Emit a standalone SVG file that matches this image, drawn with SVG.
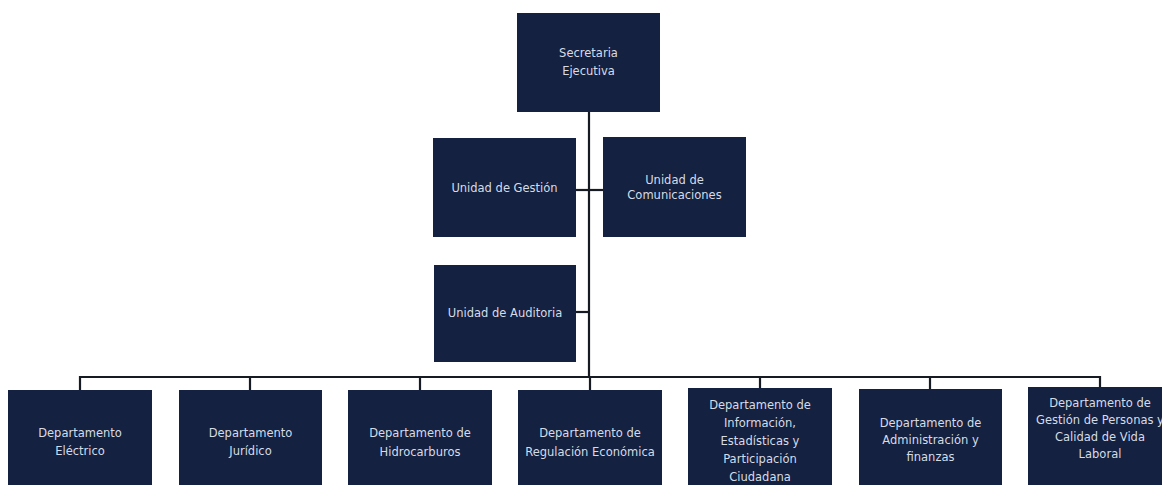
<svg xmlns="http://www.w3.org/2000/svg" width="1162" height="485" viewBox="0 0 1162 485">
<style>
.box{fill:#142140;}
.t{font-family:"DejaVu Sans",Verdana,sans-serif;font-size:11.5px;fill:#d6dce6;text-anchor:middle;}
.c{stroke:#161a22;stroke-width:2.2;fill:none;}
</style>
<rect width="1162" height="485" fill="#ffffff"/>
<g id="connectors">
<line class="c" x1="589" y1="112" x2="589" y2="377"/>
<line class="c" x1="576" y1="190" x2="603" y2="190"/>
<line class="c" x1="576" y1="312" x2="589" y2="312"/>
<line class="c" x1="80" y1="377" x2="1100" y2="377"/>
<line class="c" x1="80" y1="376" x2="80" y2="390"/>
<line class="c" x1="250" y1="377" x2="250" y2="390"/>
<line class="c" x1="420" y1="377" x2="420" y2="390"/>
<line class="c" x1="590" y1="377" x2="590" y2="390"/>
<line class="c" x1="760" y1="377" x2="760" y2="390"/>
<line class="c" x1="930" y1="377" x2="930" y2="390"/>
<line class="c" x1="1100" y1="376" x2="1100" y2="390"/>
</g>
<g id="secretaria">
<rect class="box" x="517" y="13" width="143" height="99"/>
<text class="t" x="588.5" y="57">Secretaria</text>
<text class="t" x="588.5" y="75">Ejecutiva</text>
</g>
<g id="gestion">
<rect class="box" x="433" y="138" width="143" height="99"/>
<text class="t" x="504.5" y="192">Unidad de Gestión</text>
</g>
<g id="comunicaciones">
<rect class="box" x="603" y="137" width="143" height="100"/>
<text class="t" x="674.5" y="184">Unidad de</text>
<text class="t" x="674.5" y="199">Comunicaciones</text>
</g>
<g id="auditoria">
<rect class="box" x="434" y="265" width="142" height="97"/>
<text class="t" x="505" y="317">Unidad de Auditoria</text>
</g>
<g id="electrico">
<rect class="box" x="8" y="390" width="144" height="95"/>
<text class="t" x="80" y="437">Departamento</text>
<text class="t" x="80" y="455">Eléctrico</text>
</g>
<g id="juridico">
<rect class="box" x="179" y="390" width="143" height="95"/>
<text class="t" x="250.5" y="437">Departamento</text>
<text class="t" x="250.5" y="455">Jurídico</text>
</g>
<g id="hidrocarburos">
<rect class="box" x="348" y="390" width="144" height="95"/>
<text class="t" x="420" y="437">Departamento de</text>
<text class="t" x="420" y="456">Hidrocarburos</text>
</g>
<g id="regulacion">
<rect class="box" x="518" y="390" width="144" height="95"/>
<text class="t" x="590" y="437">Departamento de</text>
<text class="t" x="590" y="456">Regulación Económica</text>
</g>
<g id="informacion">
<rect class="box" x="688" y="388" width="144" height="97"/>
<text class="t" x="760" y="409">Departamento de</text>
<text class="t" x="760" y="427">Información,</text>
<text class="t" x="760" y="445">Estadísticas y</text>
<text class="t" x="760" y="463">Participación</text>
<text class="t" x="760" y="481">Ciudadana</text>
</g>
<g id="administracion">
<rect class="box" x="859" y="389" width="143" height="96"/>
<text class="t" x="930.5" y="427">Departamento de</text>
<text class="t" x="930.5" y="444">Administración y</text>
<text class="t" x="930.5" y="461">finanzas</text>
</g>
<g id="personas">
<rect class="box" x="1028" y="387" width="144" height="98"/>
<text class="t" x="1100" y="407">Departamento de</text>
<text class="t" x="1100" y="424">Gestión de Personas y</text>
<text class="t" x="1100" y="441">Calidad de Vida</text>
<text class="t" x="1100" y="458">Laboral</text>
</g>
</svg>
